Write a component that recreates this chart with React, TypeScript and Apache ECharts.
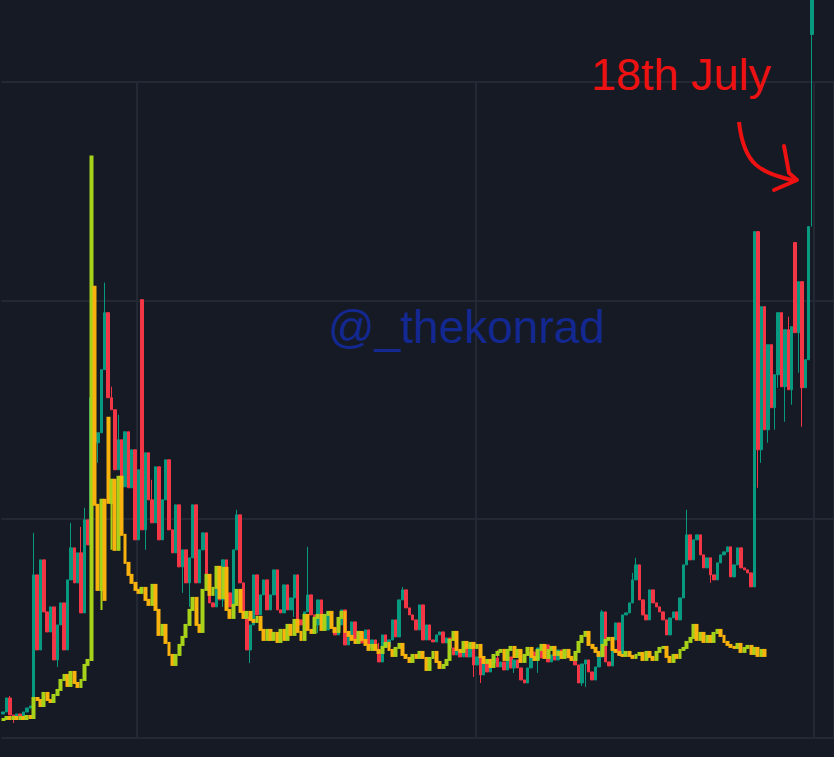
import React, { useEffect, useRef } from "react";
import * as echarts from "echarts";

// ---- categories (one per candle slot; dates are not shown on the chart) ----
const categories: string[] = Array.from({ length: 246 }, (_, i) => `P${i + 1}`);
const verticalGridIndices = [40, 140, 240];

// ---- main symbol (teal / red candles): closes, opens derive from previous close ----
const mainClose = [
  26, 40, 23, 20, 24, 22, 26, 30, 32, 163,
  88, 178, 126, 106, 131, 78, 113, 135, 88, 158,
  190, 155, 185, 125, 218, 193, 340, 295, 305, 368,
  425, 340, 328, 268, 298, 251, 306, 250, 288, 198,
  268, 208, 285, 238, 215, 271, 198, 238, 278, 208,
  185, 233, 171, 188, 155, 180, 233, 155, 188, 205,
  155, 135, 131, 155, 138, 178, 145, 131, 188, 223,
  155, 121, 88, 113, 163, 123, 143, 158, 128, 143,
  168, 128, 125, 153, 128, 140, 163, 118, 113, 126,
  143, 123, 113, 138, 118, 108, 126, 110, 103, 113,
  128, 93, 101, 116, 98, 106, 95, 108, 90, 98,
  88, 76, 103, 91, 98, 118, 101, 138, 148, 130,
  123, 118, 108, 133, 98, 113, 98, 96, 103, 106,
  95, 100, 90, 83, 88, 81, 90, 81, 94, 73,
  81, 63, 78, 66, 75, 80, 71, 76, 68, 81,
  70, 78, 70, 58, 55, 70, 86, 78, 90, 80,
  93, 76, 83, 78, 88, 82, 88, 80, 78, 73,
  55, 74, 78, 66, 58, 71, 81, 126, 76, 72,
  98, 115, 83, 123, 125, 135, 158, 173, 138, 123,
  118, 148, 135, 131, 126, 118, 103, 120, 126, 118,
  140, 173, 203, 178, 198, 203, 183, 170, 180, 163,
  158, 175, 183, 186, 191, 161, 173, 190, 170, 168,
  165, 151, 506, 288, 431, 308, 393, 330, 363, 425,
  351, 408, 348, 411, 405, 456, 350, 378, 511, 778,
];
const mainOpenAt: Record<number, number> = { 0: 24, 41: 438, 234: 495, 239: 703 };
const mainHighAt: Record<number, number> = {
  2: 42, 9: 205, 20: 215, 23: 211, 24: 230, 30: 455, 32: 351, 34: 323, 44: 258,
  69: 228, 90: 191, 111: 95, 118: 151, 146: 88, 177: 128, 186: 165, 187: 180,
  202: 228, 232: 421,
};
const mainLowAt: Record<number, number> = {
  3: 15, 16: 71, 28: 275, 42: 188, 53: 145, 55: 131, 65: 131, 73: 75, 86: 121,
  93: 105, 139: 61, 141: 55, 151: 65, 158: 65, 171: 52, 172: 51, 209: 155,
  223: 250, 224: 275, 226: 295, 228: 308, 229: 350, 231: 316, 233: 333,
  235: 365, 236: 311, 239: 511,
};

// ---- compared symbol (lime / amber candles) ----
const cmpClose = [
  19, 21, 19, 21, 19, 21, 19, 22, 20, 40,
  38, 32, 45, 38, 36, 43, 48, 58, 63, 52,
  66, 55, 51, 58, 73, 78, 581, 233, 148, 238,
  138, 235, 258, 188, 261, 203, 175, 163, 155, 148,
  145, 150, 138, 133, 153, 128, 103, 113, 95, 83,
  73, 83, 93, 101, 113, 128, 140, 113, 106, 148,
  163, 143, 150, 171, 140, 170, 128, 120, 133, 148,
  126, 120, 126, 118, 116, 121, 108, 98, 108, 98,
  105, 96, 108, 98, 113, 103, 118, 106, 98, 123,
  108, 105, 120, 123, 108, 123, 126, 110, 106, 120,
  126, 106, 102, 98, 95, 106, 98, 93, 88, 93,
  88, 85, 91, 95, 88, 82, 90, 94, 83, 80,
  76, 83, 80, 86, 80, 68, 80, 86, 76, 70,
  73, 78, 98, 106, 88, 86, 96, 90, 95, 90,
  93, 81, 75, 78, 71, 83, 86, 88, 78, 88,
  91, 81, 88, 76, 83, 90, 81, 78, 88, 93,
  80, 88, 91, 83, 86, 80, 88, 81, 78, 86,
  96, 102, 106, 93, 90, 86, 82, 93, 98, 100,
  88, 86, 83, 82, 86, 82, 80, 83, 85, 78,
  86, 81, 78, 86, 90, 91, 81, 76, 83, 80,
  88, 90, 96, 100, 113, 98, 105, 96, 102, 96,
  105, 108, 102, 96, 93, 91, 90, 94, 86, 90,
  92, 84, 90, 82, 88, 82,
];
const cmpOpenAt: Record<number, number> = { 0: 18, 27: 451, 31: 320 };
const cmpHighAt: Record<number, number> = {};
const cmpLowAt: Record<number, number> = { 29: 128, 32: 188 };

// ---- styling ----
const BG = "#161a25";
const GRID = "#242834";
const TEAL = "#089981";
const RED = "#f23645";
const LIME = "#a6d21a";
const AMBER = "#f9b10d";
const NOTE = "#ee1111";

function toOHLC(
  close: number[],
  openAt: Record<number, number>,
  highAt: Record<number, number>,
  lowAt: Record<number, number>
): number[][] {
  return close.map((c, i) => {
    const o = openAt[i] !== undefined ? openAt[i] : close[i - 1];
    const lo = Math.min(o, c, lowAt[i] !== undefined ? lowAt[i] : Infinity);
    const hi = Math.max(o, c, highAt[i] !== undefined ? highAt[i] : -Infinity);
    return [o, c, lo, hi];
  });
}

export default function App() {
  const ref = useRef<HTMLDivElement>(null);

  useEffect(() => {
    document.body.style.margin = "0";
    document.body.style.background = BG;
    const chart = echarts.init(ref.current as HTMLDivElement, undefined, { renderer: "svg" });
    const mainData = toOHLC(mainClose, mainOpenAt, mainHighAt, mainLowAt);
    const cmpData = toOHLC(cmpClose, cmpOpenAt, cmpHighAt, cmpLowAt);

    chart.setOption({
      animation: false,
      backgroundColor: BG,
      grid: { left: 1.5, right: 0, top: 81.5, bottom: 19 },
      xAxis: {
        type: "category",
        data: categories,
        boundaryGap: true,
        axisLine: { show: false },
        axisTick: { show: false },
        axisLabel: { show: false },
        splitLine: {
          show: true,
          interval: (i: number) => verticalGridIndices.indexOf(i) >= 0,
          lineStyle: { color: GRID, width: 2 },
        },
      },
      yAxis: {
        type: "value",
        min: 0,
        max: 656,
        interval: 656 / 3,
        axisLine: { show: false },
        axisTick: { show: false },
        axisLabel: { show: false },
        splitLine: { show: true, lineStyle: { color: GRID, width: 2 } },
      },
      series: [
        {
          type: "candlestick",
          data: mainData,
          barWidth: "86%",
          clip: false,
          z: 2,
          itemStyle: {
            color: TEAL,
            color0: RED,
            borderColor: TEAL,
            borderColor0: RED,
            borderColorDoji: TEAL,
            borderWidth: 1,
          },
        },
        {
          type: "candlestick",
          data: cmpData,
          barWidth: "72%",
          clip: false,
          z: 3,
          itemStyle: {
            color: LIME,
            color0: AMBER,
            borderColor: LIME,
            borderColor0: AMBER,
            borderColorDoji: LIME,
            borderWidth: 2,
          },
        },
      ],
      graphic: [
        {
          type: "text",
          x: 328,
          y: 327,
          z: 1,
          style: {
            text: "@_thekonrad",
            font: '46px "Liberation Sans"',
            fill: "#132890",
            textVerticalAlign: "middle",
          },
        },
        {
          type: "text",
          x: 591,
          y: 74,
          z: 10,
          style: {
            text: "18th July",
            font: '45px "Liberation Sans"',
            fill: NOTE,
            textVerticalAlign: "middle",
          },
        },
        {
          type: "bezierCurve",
          z: 10,
          shape: { x1: 739, y1: 122, cpx1: 744, cpy1: 166, cpx2: 760, cpy2: 172, x2: 795, y2: 181 },
          style: { stroke: NOTE, lineWidth: 4, fill: null },
        },
        {
          type: "polyline",
          z: 10,
          shape: { points: [[784, 146], [789, 173], [797, 180], [774, 190]] },
          style: { stroke: NOTE, lineWidth: 4, fill: null, lineJoin: "round", lineCap: "round" },
        },
      ],
    });

    return () => chart.dispose();
  }, []);

  return (
    <div
      ref={ref}
      style={{ position: "absolute", left: 0, top: 0, width: 834, height: 757, background: BG }}
    />
  );
}
